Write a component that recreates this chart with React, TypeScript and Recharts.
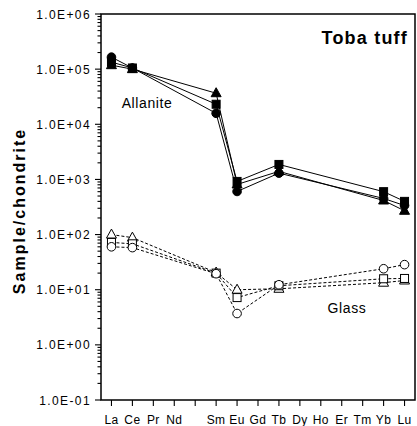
import React from 'react';
import { ComposedChart, Line, XAxis, YAxis, ReferenceArea, Customized } from 'recharts';

// REE positions along the x axis (Pm kept as an empty slot)
const elements = ['La', 'Ce', 'Pr', 'Nd', 'Pm', 'Sm', 'Eu', 'Gd', 'Tb', 'Dy', 'Ho', 'Er', 'Tm', 'Yb', 'Lu'];
const elementLabels = ['La', 'Ce', 'Pr', 'Nd', '', 'Sm', 'Eu', 'Gd', 'Tb', 'Dy', 'Ho', 'Er', 'Tm', 'Yb', 'Lu'];
const measured = ['La', 'Ce', 'Sm', 'Eu', 'Tb', 'Yb', 'Lu'];

// chondrite-normalised concentrations, same order as `measured`
const allaniteCircle = [165000, 105000, 15800, 605, 1300, 452, 336];
const allaniteSquare = [134000, 105000, 23100, 920, 1870, 600, 400];
const allaniteTriangle = [118000, 100000, 36600, 811, 1400, 415, 270];
const glassCircle = [60, 58, 19.5, 3.7, 12.3, 24, 28.5];
const glassSquare = [72, 68, 20, 7.2, 11.8, 15.8, 16];
const glassTriangle = [100, 88, 20.5, 10, 10.4, 13.4, 14.7];

const decades = [0.1, 1, 10, 100, 1000, 10000, 100000, 1000000];

const FONT = '"Liberation Sans", Arial, Helvetica, sans-serif';
const INK = '#000';

const rows = measured.map((el, i) => ({
  pos: elements.indexOf(el) + 1,
  aCircle: allaniteCircle[i],
  aSquare: allaniteSquare[i],
  aTriangle: allaniteTriangle[i],
  gCircle: glassCircle[i],
  gSquare: glassSquare[i],
  gTriangle: glassTriangle[i],
}));

const xTicks = elements.map((_, i) => i + 1);

// log axis: labelled decades plus 2..9 minor ticks
const minorTicks: number[] = [];
decades.slice(0, -1).forEach((d) => {
  for (let m = 2; m <= 9; m++) minorTicks.push(d * m);
});
const yTicks = [...decades, ...minorTicks].sort((a, b) => a - b);

const isDecade = (v: number) => decades.includes(v);

const fmtExp = (v: number) => {
  const e = Math.round(Math.log10(v));
  return `1.0E${e < 0 ? '-' : '+'}${String(Math.abs(e)).padStart(2, '0')}`;
};

// tick marks drawn by hand; tickSize/tickMargin = 0 so x/y sit on the axis
const LeftTick = (props: any) => {
  const { x, y, payload } = props;
  const major = isDecade(payload.value);
  const len = major ? 6 : 3.5;
  return (
    <g>
      <path d={`M${x - len},${y}H${x}`} stroke={INK} strokeWidth={1.1} fill="none" />
      {major && (
        <text x={x - 10} y={y} dy={4.5} textAnchor="end" fontSize={12} letterSpacing={1.4} fontFamily={FONT} fill={INK}>
          {fmtExp(payload.value)}
        </text>
      )}
    </g>
  );
};

const RightTick = (props: any) => {
  const { x, y, payload } = props;
  const len = isDecade(payload.value) ? 6 : 3.5;
  return <path d={`M${x},${y}H${x + len}`} stroke={INK} strokeWidth={1.1} fill="none" />;
};

const BottomTick = (props: any) => {
  const { x, y, payload } = props;
  return (
    <g>
      <path d={`M${x},${y}V${y + 6}`} stroke={INK} strokeWidth={1.1} fill="none" />
      <text x={x} y={y + 23.5} textAnchor="middle" fontSize={12} letterSpacing={0.4} fontFamily={FONT} fill={INK}>
        {elementLabels[payload.value - 1]}
      </text>
    </g>
  );
};

const TopTick = (props: any) => {
  const { x, y } = props;
  return <path d={`M${x},${y}V${y - 6}`} stroke={INK} strokeWidth={1.1} fill="none" />;
};

type Shape = 'circle' | 'square' | 'triangle';

const Marker = ({ cx, cy, shape, filled }: { cx: number; cy: number; shape: Shape; filled: boolean }) => {
  const fill = filled ? INK : '#fff';
  if (shape === 'circle') return <circle cx={cx} cy={cy} r={4.3} fill={fill} stroke={INK} strokeWidth={1} />;
  if (shape === 'square') return <rect x={cx - 4} y={cy - 4} width={8} height={8} fill={fill} stroke={INK} strokeWidth={1} />;
  return (
    <polygon
      points={`${cx},${cy - 5.5} ${cx - 5},${cy + 3.5} ${cx + 5},${cy + 3.5}`}
      fill={fill}
      stroke={INK}
      strokeWidth={1}
    />
  );
};

const dotFor = (shape: Shape, filled: boolean) => (p: any) =>
  <Marker key={`${shape}-${filled}-${p.index}`} cx={p.cx} cy={p.cy} shape={shape} filled={filled} />;

const Annotations = () => (
  <g fontFamily={FONT} fill={INK}>
    <text x={408} y={44} textAnchor="end" fontSize={18} fontWeight="bold" letterSpacing={1.2}>
      Toba tuff
    </text>
    <text x={147} y={108} textAnchor="middle" fontSize={14} letterSpacing={0.6}>
      Allanite
    </text>
    <text x={347} y={313} textAnchor="middle" fontSize={14} letterSpacing={0.6}>
      Glass
    </text>
    <text
      x={0}
      y={0}
      transform="translate(25, 211) rotate(-90)"
      textAnchor="middle"
      fontSize={16}
      fontWeight="bold"
      letterSpacing={2}
    >
      Sample/chondrite
    </text>
  </g>
);

const series: { key: string; shape: Shape; filled: boolean }[] = [
  { key: 'gTriangle', shape: 'triangle', filled: false },
  { key: 'gSquare', shape: 'square', filled: false },
  { key: 'gCircle', shape: 'circle', filled: false },
  { key: 'aTriangle', shape: 'triangle', filled: true },
  { key: 'aSquare', shape: 'square', filled: true },
  { key: 'aCircle', shape: 'circle', filled: true },
];

export default function App() {
  return (
    <div style={{ position: 'absolute', left: 0, top: 0, background: '#fff' }}>
      <ComposedChart width={417} height={426} data={rows} margin={{ top: 14, right: 2, bottom: 0, left: 0 }}>
        <XAxis
          xAxisId="b"
          type="number"
          dataKey="pos"
          domain={[0.5, 15.5]}
          ticks={xTicks}
          interval={0}
          allowDataOverflow
          height={26}
          tickSize={0}
          tickMargin={0}
          axisLine={false}
          tickLine={false}
          tick={<BottomTick />}
        />
        <XAxis
          xAxisId="t"
          orientation="top"
          type="number"
          domain={[0.5, 15.5]}
          ticks={xTicks}
          interval={0}
          allowDataOverflow
          height={0}
          tickSize={0}
          tickMargin={0}
          axisLine={false}
          tickLine={false}
          tick={<TopTick />}
        />
        <YAxis
          yAxisId="l"
          type="number"
          scale="log"
          domain={[0.1, 1000000]}
          ticks={yTicks}
          interval={0}
          allowDataOverflow
          width={101}
          tickSize={0}
          tickMargin={0}
          tickLine={false}
          axisLine={false}
          tick={<LeftTick />}
        />
        <YAxis
          yAxisId="r"
          orientation="right"
          type="number"
          scale="log"
          domain={[0.1, 1000000]}
          ticks={yTicks}
          interval={0}
          allowDataOverflow
          width={0}
          tickSize={0}
          tickMargin={0}
          tickLine={false}
          axisLine={false}
          tick={<RightTick />}
        />
        {/* plot frame */}
        <ReferenceArea
          xAxisId="b"
          yAxisId="l"
          x1={0.5}
          x2={15.5}
          y1={0.1}
          y2={1000000}
          fill="none"
          stroke={INK}
          strokeWidth={1.5}
          ifOverflow="visible"
        />
        {series.map((s) => (
          <Line
            key={s.key}
            xAxisId="b"
            yAxisId="l"
            dataKey={s.key}
            type="linear"
            stroke={INK}
            strokeWidth={1}
            strokeDasharray={s.filled ? undefined : '3 2'}
            dot={dotFor(s.shape, s.filled)}
            activeDot={false}
            isAnimationActive={false}
          />
        ))}
        <Customized component={Annotations} />
      </ComposedChart>
    </div>
  );
}
